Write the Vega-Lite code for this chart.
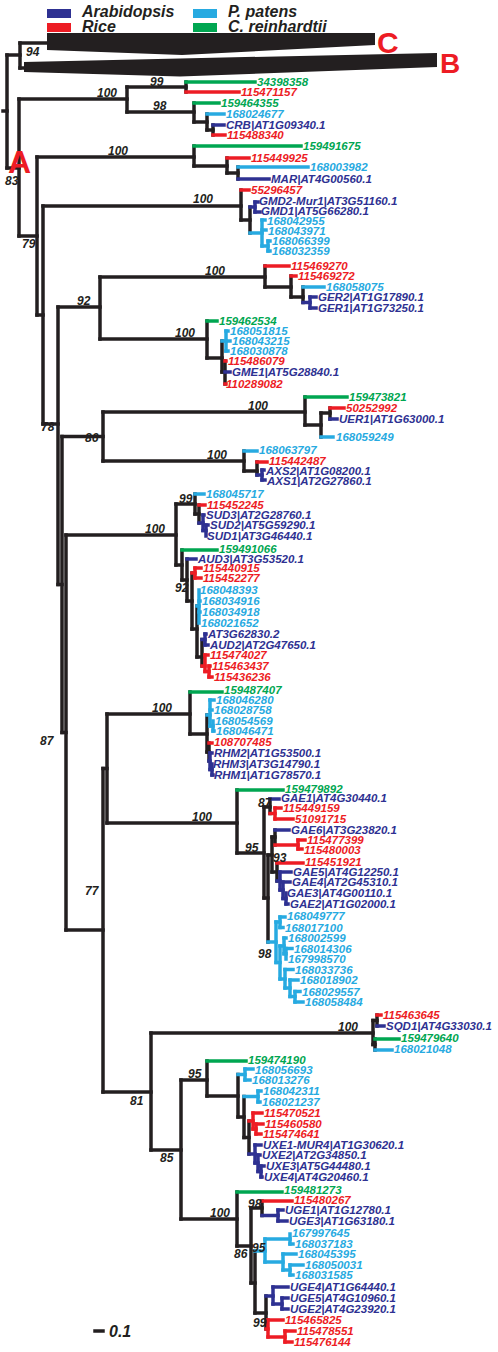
{
"$schema":"https://vega.github.io/schema/vega-lite/v6.json",
"width":498,"height":1352,"padding":0,"autosize":{"type":"none"},
"config":{"view":{"stroke":null}},
"datasets":{
"seg":[
{"x":3,"y":111,"x2":7,"y2":111,"c":"k"},{"x":7,"y":55,"x2":7,"y2":168,"c":"k"},{"x":7,"y":55,"x2":20,"y2":55,"c":"k"},{"x":20,"y":43,"x2":20,"y2":68,"c":"k"},{"x":20,"y":43,"x2":47,"y2":43,"c":"k"},{"x":20,"y":68,"x2":25,"y2":68,"c":"k"},
{"x":7,"y":168,"x2":19,"y2":168,"c":"k"},{"x":19,"y":99,"x2":19,"y2":236,"c":"k"},{"x":19,"y":99,"x2":127,"y2":99,"c":"k"},{"x":127,"y":87,"x2":127,"y2":112,"c":"k"},{"x":127,"y":87,"x2":186,"y2":87,"c":"k"},{"x":186,"y":82,"x2":186,"y2":92,"c":"k"},{"x":186,"y":82,"x2":255,"y2":82,"c":"g"},{"x":186,"y":92,"x2":239,"y2":92,"c":"r"},{"x":127,"y":112,"x2":194,"y2":112,"c":"k"},{"x":194,"y":103,"x2":194,"y2":122,"c":"k"},{"x":194,"y":103,"x2":219,"y2":103,"c":"g"},{"x":194,"y":122,"x2":207,"y2":122,"c":"k"},{"x":207,"y":114,"x2":207,"y2":130,"c":"k"},{"x":207,"y":114,"x2":224,"y2":114,"c":"l"},{"x":207,"y":130,"x2":213,"y2":130,"c":"k"},{"x":213,"y":125,"x2":213,"y2":135,"c":"k"},{"x":213,"y":125,"x2":224,"y2":125,"c":"b"},{"x":213,"y":135,"x2":225,"y2":135,"c":"r"},
{"x":19,"y":236,"x2":37,"y2":236,"c":"k"},{"x":37,"y":157,"x2":37,"y2":315,"c":"k"},{"x":37,"y":157,"x2":194,"y2":157,"c":"k"},{"x":194,"y":146,"x2":194,"y2":166,"c":"k"},{"x":194,"y":146,"x2":301,"y2":146,"c":"g"},{"x":194,"y":166,"x2":227,"y2":166,"c":"k"},{"x":227,"y":158,"x2":227,"y2":173,"c":"k"},{"x":227,"y":158,"x2":249,"y2":158,"c":"r"},{"x":227,"y":173,"x2":238,"y2":173,"c":"k"},{"x":238,"y":167,"x2":238,"y2":179,"c":"k"},{"x":238,"y":167,"x2":308,"y2":167,"c":"l"},{"x":238,"y":179,"x2":269,"y2":179,"c":"b"},
{"x":37,"y":315,"x2":43,"y2":315,"c":"k"},{"x":43,"y":206,"x2":43,"y2":424,"c":"k"},{"x":43,"y":206,"x2":241,"y2":206,"c":"k"},{"x":241,"y":190,"x2":241,"y2":220,"c":"k"},{"x":241,"y":190,"x2":249,"y2":190,"c":"r"},{"x":241,"y":220,"x2":250,"y2":220,"c":"k"},{"x":250,"y":207,"x2":250,"y2":233,"c":"k"},{"x":250,"y":207,"x2":255,"y2":207,"c":"b"},{"x":255,"y":202,"x2":255,"y2":212,"c":"b"},{"x":255,"y":202,"x2":258,"y2":202,"c":"b"},{"x":255,"y":212,"x2":260,"y2":212,"c":"b"},{"x":250,"y":233,"x2":262,"y2":233,"c":"l"},{"x":262,"y":220,"x2":262,"y2":246,"c":"l"},{"x":262,"y":220,"x2":265,"y2":220,"c":"l"},{"x":262,"y":230,"x2":266,"y2":230,"c":"l"},{"x":262,"y":246,"x2":268,"y2":246,"c":"l"},{"x":268,"y":241,"x2":268,"y2":251,"c":"l"},{"x":268,"y":241,"x2":270,"y2":241,"c":"l"},{"x":268,"y":251,"x2":270,"y2":251,"c":"l"},
{"x":43,"y":424,"x2":58,"y2":424,"c":"k"},{"x":58,"y":307,"x2":58,"y2":584.5,"c":"k"},{"x":58,"y":307,"x2":100,"y2":307,"c":"k"},{"x":100,"y":277,"x2":100,"y2":339,"c":"k"},
{"x":100,"y":277,"x2":265,"y2":277,"c":"k"},{"x":265,"y":266,"x2":265,"y2":287,"c":"k"},{"x":265,"y":266,"x2":289,"y2":266,"c":"r"},{"x":265,"y":287,"x2":291,"y2":287,"c":"k"},{"x":291,"y":276,"x2":291,"y2":297,"c":"k"},{"x":291,"y":276,"x2":296,"y2":276,"c":"r"},{"x":291,"y":297,"x2":303,"y2":297,"c":"k"},{"x":303,"y":287,"x2":303,"y2":302.5,"c":"k"},{"x":303,"y":287,"x2":324,"y2":287,"c":"l"},{"x":303,"y":302.5,"x2":310,"y2":302.5,"c":"b"},{"x":310,"y":297,"x2":310,"y2":308,"c":"b"},{"x":310,"y":297,"x2":316,"y2":297,"c":"b"},{"x":310,"y":308,"x2":316,"y2":308,"c":"b"},
{"x":100,"y":339,"x2":207,"y2":339,"c":"k"},{"x":207,"y":321,"x2":207,"y2":358,"c":"k"},{"x":207,"y":321,"x2":217,"y2":321,"c":"g"},{"x":207,"y":358,"x2":222,"y2":358,"c":"k"},{"x":222,"y":341,"x2":222,"y2":372,"c":"k"},{"x":222,"y":341,"x2":226,"y2":341,"c":"l"},{"x":226,"y":331,"x2":226,"y2":351,"c":"l"},{"x":226,"y":331,"x2":228,"y2":331,"c":"l"},{"x":226,"y":341,"x2":230,"y2":341,"c":"l"},{"x":226,"y":351,"x2":228,"y2":351,"c":"l"},{"x":222,"y":372,"x2":225,"y2":372,"c":"k"},{"x":225,"y":361,"x2":225,"y2":384,"c":"k"},{"x":225,"y":361,"x2":226,"y2":361,"c":"r"},{"x":225,"y":372,"x2":230,"y2":372,"c":"b"},{"x":225,"y":384,"x2":226,"y2":384,"c":"r"},
{"x":58,"y":584.5,"x2":62,"y2":584.5,"c":"k"},{"x":62,"y":436.5,"x2":62,"y2":732.5,"c":"k"},{"x":62,"y":436.5,"x2":103,"y2":436.5,"c":"k"},{"x":103,"y":412,"x2":103,"y2":461,"c":"k"},{"x":62,"y":732.5,"x2":66,"y2":732.5,"c":"k"},{"x":66,"y":535,"x2":66,"y2":930,"c":"k"},{"x":66,"y":930,"x2":103,"y2":930,"c":"k"},{"x":103,"y":768.5,"x2":103,"y2":1092,"c":"k"},{"x":103,"y":768.5,"x2":107,"y2":768.5,"c":"k"},{"x":107,"y":714,"x2":107,"y2":823,"c":"k"},
{"x":103,"y":412,"x2":305,"y2":412,"c":"k"},{"x":305,"y":397,"x2":305,"y2":425,"c":"k"},{"x":305,"y":397,"x2":347,"y2":397,"c":"g"},{"x":305,"y":425,"x2":321,"y2":425,"c":"k"},{"x":321,"y":413,"x2":321,"y2":437,"c":"k"},{"x":321,"y":413,"x2":330,"y2":413,"c":"k"},{"x":330,"y":408,"x2":330,"y2":419,"c":"k"},{"x":330,"y":408,"x2":344,"y2":408,"c":"r"},{"x":330,"y":419,"x2":337,"y2":419,"c":"b"},{"x":321,"y":437,"x2":333,"y2":437,"c":"l"},
{"x":103,"y":461,"x2":244,"y2":461,"c":"k"},{"x":244,"y":451,"x2":244,"y2":471,"c":"k"},{"x":244,"y":451,"x2":257,"y2":451,"c":"l"},{"x":244,"y":471,"x2":257,"y2":471,"c":"k"},{"x":257,"y":462,"x2":257,"y2":475,"c":"k"},{"x":257,"y":462,"x2":267,"y2":462,"c":"r"},{"x":257,"y":475,"x2":262,"y2":475,"c":"b"},{"x":262,"y":470,"x2":262,"y2":480,"c":"b"},{"x":262,"y":470,"x2":264,"y2":470,"c":"b"},{"x":262,"y":480,"x2":265,"y2":480,"c":"b"},
{"x":66,"y":535,"x2":176,"y2":535,"c":"k"},{"x":176,"y":504,"x2":176,"y2":565,"c":"k"},{"x":176,"y":504,"x2":195,"y2":504,"c":"k"},{"x":195,"y":494,"x2":195,"y2":514,"c":"k"},{"x":195,"y":494,"x2":204,"y2":494,"c":"l"},{"x":195,"y":514,"x2":199,"y2":514,"c":"k"},{"x":199,"y":505,"x2":199,"y2":523,"c":"k"},{"x":199,"y":505,"x2":205,"y2":505,"c":"r"},{"x":199,"y":523,"x2":203,"y2":523,"c":"b"},{"x":203,"y":515,"x2":203,"y2":530.5,"c":"b"},{"x":203,"y":515,"x2":204,"y2":515,"c":"b"},{"x":203,"y":530.5,"x2":206,"y2":530.5,"c":"b"},{"x":206,"y":525,"x2":206,"y2":536,"c":"b"},{"x":206,"y":525,"x2":208,"y2":525,"c":"b"},
{"x":176,"y":565,"x2":182,"y2":565,"c":"k"},{"x":182,"y":550,"x2":182,"y2":580,"c":"k"},{"x":182,"y":550,"x2":217,"y2":550,"c":"g"},{"x":182,"y":580,"x2":187,"y2":580,"c":"k"},{"x":187,"y":559,"x2":187,"y2":601,"c":"k"},{"x":187,"y":559,"x2":196,"y2":559,"c":"b"},{"x":187,"y":601,"x2":192,"y2":601,"c":"k"},{"x":192,"y":573,"x2":192,"y2":629,"c":"k"},{"x":192,"y":573,"x2":195,"y2":573,"c":"r"},{"x":195,"y":568,"x2":195,"y2":578,"c":"r"},{"x":195,"y":568,"x2":201,"y2":568,"c":"r"},{"x":195,"y":578,"x2":201,"y2":578,"c":"r"},{"x":192,"y":629,"x2":197,"y2":629,"c":"k"},{"x":197,"y":606,"x2":197,"y2":657,"c":"k"},{"x":197,"y":606,"x2":199,"y2":606,"c":"l"},{"x":199,"y":590,"x2":199,"y2":623,"c":"l"},{"x":199,"y":601,"x2":200,"y2":601,"c":"l"},{"x":199,"y":612,"x2":200,"y2":612,"c":"l"},{"x":197,"y":657,"x2":202,"y2":657,"c":"k"},{"x":202,"y":639.5,"x2":202,"y2":666,"c":"k"},{"x":202,"y":639.5,"x2":205,"y2":639.5,"c":"b"},{"x":205,"y":634,"x2":205,"y2":645,"c":"b"},{"x":205,"y":634,"x2":206,"y2":634,"c":"b"},{"x":205,"y":645,"x2":208,"y2":645,"c":"b"},{"x":202,"y":666,"x2":205,"y2":666,"c":"r"},{"x":205,"y":655,"x2":205,"y2":671.5,"c":"r"},{"x":205,"y":655,"x2":208,"y2":655,"c":"r"},{"x":205,"y":671.5,"x2":209,"y2":671.5,"c":"r"},{"x":209,"y":666,"x2":209,"y2":677,"c":"r"},{"x":209,"y":666,"x2":210,"y2":666,"c":"r"},{"x":209,"y":677,"x2":212,"y2":677,"c":"r"},
{"x":107,"y":714,"x2":190,"y2":714,"c":"k"},{"x":190,"y":692,"x2":190,"y2":734,"c":"k"},{"x":190,"y":692,"x2":222,"y2":692,"c":"g"},{"x":190,"y":734,"x2":207,"y2":734,"c":"k"},{"x":207,"y":715,"x2":207,"y2":752,"c":"k"},{"x":207,"y":715,"x2":210,"y2":715,"c":"l"},{"x":210,"y":700,"x2":210,"y2":726,"c":"l"},{"x":210,"y":700,"x2":214,"y2":700,"c":"l"},{"x":210,"y":710,"x2":212,"y2":710,"c":"l"},{"x":210,"y":726,"x2":213,"y2":726,"c":"l"},{"x":213,"y":721,"x2":213,"y2":731,"c":"l"},{"x":213,"y":731,"x2":214,"y2":731,"c":"l"},{"x":207,"y":752,"x2":209,"y2":752,"c":"k"},{"x":209,"y":743,"x2":209,"y2":761,"c":"k"},{"x":209,"y":743,"x2":212,"y2":743,"c":"r"},{"x":209,"y":761,"x2":210,"y2":761,"c":"b"},{"x":210,"y":753,"x2":210,"y2":769.5,"c":"b"},{"x":210,"y":753,"x2":212,"y2":753,"c":"b"},{"x":210,"y":769.5,"x2":212,"y2":769.5,"c":"b"},{"x":212,"y":764,"x2":212,"y2":775,"c":"b"},{"x":212,"y":775,"x2":213,"y2":775,"c":"b"},
{"x":107,"y":823,"x2":237,"y2":823,"c":"k"},{"x":237,"y":790,"x2":237,"y2":853,"c":"k"},{"x":237,"y":790,"x2":283,"y2":790,"c":"g"},{"x":237,"y":853,"x2":264,"y2":853,"c":"k"},{"x":264,"y":807,"x2":264,"y2":898,"c":"k"},{"x":264,"y":807,"x2":270,"y2":807,"c":"k"},{"x":270,"y":799,"x2":270,"y2":813.5,"c":"k"},{"x":270,"y":799,"x2":279,"y2":799,"c":"b"},{"x":270,"y":813.5,"x2":275,"y2":813.5,"c":"r"},{"x":275,"y":808,"x2":275,"y2":819,"c":"r"},{"x":275,"y":808,"x2":281,"y2":808,"c":"r"},{"x":275,"y":819,"x2":293,"y2":819,"c":"r"},{"x":264,"y":898,"x2":268,"y2":898,"c":"k"},{"x":268,"y":855,"x2":268,"y2":942,"c":"k"},{"x":268,"y":855,"x2":272,"y2":855,"c":"k"},{"x":272,"y":837,"x2":272,"y2":872,"c":"k"},{"x":272,"y":837,"x2":275,"y2":837,"c":"k"},{"x":275,"y":830,"x2":275,"y2":845,"c":"k"},{"x":275,"y":830,"x2":289,"y2":830,"c":"b"},{"x":275,"y":845,"x2":298,"y2":845,"c":"r"},{"x":298,"y":840,"x2":298,"y2":849,"c":"r"},{"x":298,"y":840,"x2":305,"y2":840,"c":"r"},{"x":298,"y":849,"x2":302,"y2":849,"c":"r"},{"x":272,"y":872,"x2":277,"y2":872,"c":"k"},{"x":277,"y":863,"x2":277,"y2":881,"c":"k"},{"x":277,"y":863,"x2":303,"y2":863,"c":"r"},{"x":277,"y":881,"x2":280,"y2":881,"c":"b"},{"x":280,"y":872,"x2":280,"y2":890,"c":"b"},{"x":280,"y":872,"x2":291,"y2":872,"c":"b"},{"x":280,"y":890,"x2":283,"y2":890,"c":"b"},{"x":283,"y":882,"x2":283,"y2":898.5,"c":"b"},{"x":283,"y":882,"x2":290,"y2":882,"c":"b"},{"x":283,"y":898.5,"x2":286,"y2":898.5,"c":"b"},{"x":286,"y":893,"x2":286,"y2":904,"c":"b"},{"x":286,"y":904,"x2":288,"y2":904,"c":"b"},
{"x":268,"y":942,"x2":276,"y2":942,"c":"l"},{"x":276,"y":922,"x2":276,"y2":962.5,"c":"l"},{"x":276,"y":922,"x2":280,"y2":922,"c":"l"},{"x":280,"y":917,"x2":280,"y2":927.5,"c":"l"},{"x":280,"y":917,"x2":285,"y2":917,"c":"l"},{"x":280,"y":927.5,"x2":283,"y2":927.5,"c":"l"},{"x":276,"y":962.5,"x2":280,"y2":962.5,"c":"l"},{"x":280,"y":946,"x2":280,"y2":979,"c":"l"},{"x":280,"y":946,"x2":284,"y2":946,"c":"l"},{"x":284,"y":938,"x2":284,"y2":953.75,"c":"l"},{"x":284,"y":938,"x2":286,"y2":938,"c":"l"},{"x":284,"y":953.75,"x2":286,"y2":953.75,"c":"l"},{"x":286,"y":948.5,"x2":286,"y2":959,"c":"l"},{"x":286,"y":948.5,"x2":292,"y2":948.5,"c":"l"},{"x":280,"y":979,"x2":285,"y2":979,"c":"l"},{"x":285,"y":969.5,"x2":285,"y2":988,"c":"l"},{"x":285,"y":969.5,"x2":293,"y2":969.5,"c":"l"},{"x":285,"y":988,"x2":290,"y2":988,"c":"l"},{"x":290,"y":980,"x2":290,"y2":996.5,"c":"l"},{"x":290,"y":980,"x2":298,"y2":980,"c":"l"},{"x":290,"y":996.5,"x2":295,"y2":996.5,"c":"l"},{"x":295,"y":991.5,"x2":295,"y2":1002,"c":"l"},{"x":295,"y":991.5,"x2":300,"y2":991.5,"c":"l"},{"x":295,"y":1002,"x2":303,"y2":1002,"c":"l"},
{"x":103,"y":1092,"x2":151,"y2":1092,"c":"k"},{"x":151,"y":1033,"x2":151,"y2":1150,"c":"k"},{"x":151,"y":1033,"x2":373,"y2":1033,"c":"k"},{"x":373,"y":1020.5,"x2":373,"y2":1044.5,"c":"k"},{"x":373,"y":1020.5,"x2":377,"y2":1020.5,"c":"k"},{"x":377,"y":1015,"x2":377,"y2":1026,"c":"k"},{"x":377,"y":1015,"x2":381,"y2":1015,"c":"r"},{"x":377,"y":1026,"x2":384,"y2":1026,"c":"b"},{"x":373,"y":1044.5,"x2":375,"y2":1044.5,"c":"k"},{"x":375,"y":1039,"x2":375,"y2":1050,"c":"k"},{"x":375,"y":1039,"x2":399,"y2":1039,"c":"g"},{"x":375,"y":1050,"x2":392,"y2":1050,"c":"l"},
{"x":151,"y":1150,"x2":181,"y2":1150,"c":"k"},{"x":181,"y":1080,"x2":181,"y2":1219,"c":"k"},{"x":181,"y":1080,"x2":207,"y2":1080,"c":"k"},{"x":207,"y":1061,"x2":207,"y2":1096,"c":"k"},{"x":207,"y":1061,"x2":246,"y2":1061,"c":"g"},{"x":207,"y":1096,"x2":238,"y2":1096,"c":"k"},{"x":238,"y":1074.5,"x2":238,"y2":1117,"c":"k"},{"x":238,"y":1074.5,"x2":245,"y2":1074.5,"c":"l"},{"x":245,"y":1069,"x2":245,"y2":1080,"c":"l"},{"x":245,"y":1069,"x2":253,"y2":1069,"c":"l"},{"x":245,"y":1080,"x2":250,"y2":1080,"c":"l"},{"x":238,"y":1117,"x2":244,"y2":1117,"c":"k"},{"x":244,"y":1096.5,"x2":244,"y2":1137.5,"c":"k"},{"x":244,"y":1096.5,"x2":258,"y2":1096.5,"c":"l"},{"x":258,"y":1091,"x2":258,"y2":1102,"c":"l"},{"x":258,"y":1091,"x2":261,"y2":1091,"c":"l"},{"x":258,"y":1102,"x2":260,"y2":1102,"c":"l"},{"x":244,"y":1137.5,"x2":249,"y2":1137.5,"c":"k"},{"x":249,"y":1121,"x2":249,"y2":1154,"c":"k"},{"x":249,"y":1121,"x2":253,"y2":1121,"c":"r"},{"x":253,"y":1113,"x2":253,"y2":1129,"c":"r"},{"x":253,"y":1113,"x2":262,"y2":1113,"c":"r"},{"x":253,"y":1129,"x2":256,"y2":1129,"c":"r"},{"x":256,"y":1124,"x2":256,"y2":1134,"c":"r"},{"x":256,"y":1124,"x2":263,"y2":1124,"c":"r"},{"x":256,"y":1134,"x2":261,"y2":1134,"c":"r"},{"x":249,"y":1154,"x2":255,"y2":1154,"c":"b"},{"x":255,"y":1145,"x2":255,"y2":1163,"c":"b"},{"x":255,"y":1145,"x2":261,"y2":1145,"c":"b"},{"x":255,"y":1163,"x2":258,"y2":1163,"c":"b"},{"x":258,"y":1155,"x2":258,"y2":1171.5,"c":"b"},{"x":258,"y":1155,"x2":260,"y2":1155,"c":"b"},{"x":258,"y":1171.5,"x2":261,"y2":1171.5,"c":"b"},{"x":261,"y":1166,"x2":261,"y2":1177,"c":"b"},{"x":261,"y":1166,"x2":264,"y2":1166,"c":"b"},{"x":261,"y":1177,"x2":262,"y2":1177,"c":"b"},
{"x":181,"y":1219,"x2":237,"y2":1219,"c":"k"},{"x":237,"y":1192,"x2":237,"y2":1246,"c":"k"},{"x":237,"y":1192,"x2":282,"y2":1192,"c":"g"},{"x":237,"y":1246,"x2":251,"y2":1246,"c":"k"},{"x":251,"y":1208,"x2":251,"y2":1283,"c":"k"},{"x":251,"y":1208,"x2":262,"y2":1208,"c":"k"},{"x":262,"y":1201,"x2":262,"y2":1215.5,"c":"k"},{"x":262,"y":1201,"x2":292,"y2":1201,"c":"r"},{"x":262,"y":1215.5,"x2":278,"y2":1215.5,"c":"b"},{"x":278,"y":1210,"x2":278,"y2":1221,"c":"b"},{"x":278,"y":1210,"x2":283,"y2":1210,"c":"b"},{"x":278,"y":1221,"x2":287,"y2":1221,"c":"b"},{"x":251,"y":1283,"x2":255,"y2":1283,"c":"k"},{"x":255,"y":1251,"x2":255,"y2":1313,"c":"k"},{"x":255,"y":1251,"x2":265,"y2":1251,"c":"l"},{"x":265,"y":1239,"x2":265,"y2":1262,"c":"l"},{"x":265,"y":1239,"x2":290,"y2":1239,"c":"l"},{"x":290,"y":1234,"x2":290,"y2":1244,"c":"l"},{"x":290,"y":1244,"x2":293,"y2":1244,"c":"l"},{"x":265,"y":1262,"x2":283,"y2":1262,"c":"l"},{"x":283,"y":1254,"x2":283,"y2":1270,"c":"l"},{"x":283,"y":1254,"x2":296,"y2":1254,"c":"l"},{"x":283,"y":1270,"x2":290,"y2":1270,"c":"l"},{"x":290,"y":1265,"x2":290,"y2":1275,"c":"l"},{"x":290,"y":1265,"x2":303,"y2":1265,"c":"l"},{"x":290,"y":1275,"x2":293,"y2":1275,"c":"l"},{"x":255,"y":1313,"x2":266,"y2":1313,"c":"k"},{"x":266,"y":1296,"x2":266,"y2":1329,"c":"k"},{"x":266,"y":1296,"x2":273,"y2":1296,"c":"b"},{"x":273,"y":1287,"x2":273,"y2":1304,"c":"b"},{"x":273,"y":1287,"x2":288,"y2":1287,"c":"b"},{"x":273,"y":1304,"x2":282,"y2":1304,"c":"b"},{"x":282,"y":1298,"x2":282,"y2":1309,"c":"b"},{"x":282,"y":1298,"x2":288,"y2":1298,"c":"b"},{"x":282,"y":1309,"x2":288,"y2":1309,"c":"b"},{"x":266,"y":1329,"x2":268,"y2":1329,"c":"r"},{"x":268,"y":1320,"x2":268,"y2":1337,"c":"r"},{"x":268,"y":1320,"x2":283,"y2":1320,"c":"r"},{"x":268,"y":1337,"x2":285,"y2":1337,"c":"r"},{"x":285,"y":1331,"x2":285,"y2":1342,"c":"r"},{"x":285,"y":1331,"x2":295,"y2":1331,"c":"r"},{"x":285,"y":1342,"x2":292,"y2":1342,"c":"r"},
{"x":95,"y":1331,"x2":103,"y2":1331,"c":"k"}
],
"tri":[
{"id":"C","x":47,"y":33,"y2":50},{"id":"C","x":182,"y":33,"y2":55},{"id":"C","x":375,"y":33,"y2":45},
{"id":"B","x":24,"y":62,"y2":72},{"id":"B","x":180,"y":58.5,"y2":76.5},{"id":"B","x":437,"y":53,"y2":67}
],
"leaf":[
{"x":257,"y":82,"t":"34398358","c":"g"},{"x":241,"y":92,"t":"115471157","c":"r"},{"x":221,"y":103,"t":"159464355","c":"g"},{"x":226,"y":114,"t":"168024677","c":"l"},{"x":226,"y":125,"t":"CRB|AT1G09340.1","c":"b"},{"x":227,"y":135,"t":"115488340","c":"r"},
{"x":303,"y":146,"t":"159491675","c":"g"},{"x":251,"y":158,"t":"115449925","c":"r"},{"x":310,"y":167,"t":"168003982","c":"l"},{"x":271,"y":179,"t":"MAR|AT4G00560.1","c":"b"},
{"x":251,"y":190,"t":"55296457","c":"r"},{"x":259,"y":201,"t":"GMD2-Mur1|AT3G51160.1","c":"b"},{"x":261,"y":211,"t":"GMD1|AT5G66280.1","c":"b"},{"x":267,"y":221,"t":"168042955","c":"l"},{"x":268,"y":231,"t":"168043971","c":"l"},{"x":272,"y":241,"t":"168066399","c":"l"},{"x":272,"y":251,"t":"168032359","c":"l"},
{"x":291,"y":266,"t":"115469270","c":"r"},{"x":298,"y":276,"t":"115469272","c":"r"},{"x":326,"y":287,"t":"168058075","c":"l"},{"x":318,"y":297,"t":"GER2|AT1G17890.1","c":"b"},{"x":318,"y":308,"t":"GER1|AT1G73250.1","c":"b"},
{"x":219,"y":321,"t":"159462534","c":"g"},{"x":230,"y":331,"t":"168051815","c":"l"},{"x":232,"y":341,"t":"168043215","c":"l"},{"x":230,"y":351,"t":"168030878","c":"l"},{"x":228,"y":361,"t":"115486079","c":"r"},{"x":232,"y":372,"t":"GME1|AT5G28840.1","c":"b"},{"x":226,"y":384,"t":"110289082","c":"r"},
{"x":349,"y":397,"t":"159473821","c":"g"},{"x":346,"y":408,"t":"50252992","c":"r"},{"x":339,"y":419,"t":"UER1|AT1G63000.1","c":"b"},{"x":336,"y":437,"t":"168059249","c":"l"},
{"x":259,"y":450,"t":"168063797","c":"l"},{"x":269,"y":460.5,"t":"115442487","c":"r"},{"x":266,"y":471,"t":"AXS2|AT1G08200.1","c":"b"},{"x":267,"y":481,"t":"AXS1|AT2G27860.1","c":"b"},
{"x":206,"y":494,"t":"168045717","c":"l"},{"x":207,"y":505,"t":"115452245","c":"r"},{"x":206,"y":515,"t":"SUD3|AT2G28760.1","c":"b"},{"x":210,"y":525,"t":"SUD2|AT5G59290.1","c":"b"},{"x":207,"y":536,"t":"SUD1|AT3G46440.1","c":"b"},
{"x":219,"y":549,"t":"159491066","c":"g"},{"x":198,"y":559,"t":"AUD3|AT3G53520.1","c":"b"},{"x":203,"y":568,"t":"115440915","c":"r"},{"x":203,"y":578,"t":"115452277","c":"r"},{"x":200,"y":590,"t":"168048393","c":"l"},{"x":202,"y":601,"t":"168034916","c":"l"},{"x":202,"y":612,"t":"168034918","c":"l"},{"x":201,"y":623,"t":"168021652","c":"l"},{"x":208,"y":634,"t":"AT3G62830.2","c":"b"},{"x":210,"y":645,"t":"AUD2|AT2G47650.1","c":"b"},{"x":210,"y":655,"t":"115474027","c":"r"},{"x":212,"y":666,"t":"115463437","c":"r"},{"x":214,"y":677,"t":"115436236","c":"r"},
{"x":224,"y":690,"t":"159487407","c":"g"},{"x":216,"y":700,"t":"168046280","c":"l"},{"x":214,"y":710,"t":"168028758","c":"l"},{"x":215,"y":721,"t":"168054569","c":"l"},{"x":216,"y":731,"t":"168046471","c":"l"},{"x":214,"y":742,"t":"108707485","c":"r"},{"x":214,"y":753,"t":"RHM2|AT1G53500.1","c":"b"},{"x":213,"y":764,"t":"RHM3|AT3G14790.1","c":"b"},{"x":214,"y":775,"t":"RHM1|AT1G78570.1","c":"b"},
{"x":285,"y":789,"t":"159479892","c":"g"},{"x":281,"y":798,"t":"GAE1|AT4G30440.1","c":"b"},{"x":283,"y":808,"t":"115449159","c":"r"},{"x":295,"y":819,"t":"51091715","c":"r"},{"x":291,"y":830,"t":"GAE6|AT3G23820.1","c":"b"},{"x":307,"y":840,"t":"115477399","c":"r"},{"x":304,"y":850,"t":"115480003","c":"r"},{"x":305,"y":862,"t":"115451921","c":"r"},{"x":293,"y":872,"t":"GAE5|AT4G12250.1","c":"b"},{"x":292,"y":882,"t":"GAE4|AT2G45310.1","c":"b"},{"x":287,"y":893,"t":"GAE3|AT4G00110.1","c":"b"},{"x":290,"y":904,"t":"GAE2|AT1G02000.1","c":"b"},
{"x":287,"y":916,"t":"168049777","c":"l"},{"x":285,"y":927.5,"t":"168017100","c":"l"},{"x":288,"y":938,"t":"168002599","c":"l"},{"x":294,"y":948.5,"t":"168014306","c":"l"},{"x":288,"y":959,"t":"167998570","c":"l"},{"x":295,"y":969.5,"t":"168033736","c":"l"},{"x":300,"y":980,"t":"168018902","c":"l"},{"x":302,"y":991.5,"t":"168029557","c":"l"},{"x":305,"y":1002,"t":"168058484","c":"l"},
{"x":383,"y":1015,"t":"115463645","c":"r"},{"x":386,"y":1026,"t":"SQD1|AT4G33030.1","c":"b"},{"x":401,"y":1038,"t":"159479640","c":"g"},{"x":394,"y":1049,"t":"168021048","c":"l"},
{"x":248,"y":1060,"t":"159474190","c":"g"},{"x":255,"y":1070,"t":"168056693","c":"l"},{"x":252,"y":1080,"t":"168013276","c":"l"},{"x":263,"y":1091,"t":"168042311","c":"l"},{"x":262,"y":1102,"t":"168021237","c":"l"},{"x":264,"y":1113,"t":"115470521","c":"r"},{"x":265,"y":1124,"t":"115460580","c":"r"},{"x":263,"y":1134,"t":"115474641","c":"r"},{"x":263,"y":1145,"t":"UXE1-MUR4|AT1G30620.1","c":"b"},{"x":262,"y":1155,"t":"UXE2|AT2G34850.1","c":"b"},{"x":266,"y":1166,"t":"UXE3|AT5G44480.1","c":"b"},{"x":264,"y":1177,"t":"UXE4|AT4G20460.1","c":"b"},
{"x":284,"y":1190,"t":"159481273","c":"g"},{"x":294,"y":1200,"t":"115480267","c":"r"},{"x":285,"y":1210,"t":"UGE1|AT1G12780.1","c":"b"},{"x":289,"y":1221,"t":"UGE3|AT1G63180.1","c":"b"},{"x":292,"y":1233,"t":"167997645","c":"l"},{"x":295,"y":1244,"t":"168037183","c":"l"},{"x":298,"y":1254,"t":"168045395","c":"l"},{"x":305,"y":1265,"t":"168050031","c":"l"},{"x":295,"y":1275,"t":"168031585","c":"l"},{"x":290,"y":1287,"t":"UGE4|AT1G64440.1","c":"b"},{"x":290,"y":1298,"t":"UGE5|AT4G10960.1","c":"b"},{"x":290,"y":1309,"t":"UGE2|AT4G23920.1","c":"b"},{"x":285,"y":1320,"t":"115465825","c":"r"},{"x":297,"y":1331,"t":"115478551","c":"r"},{"x":294,"y":1342,"t":"115476144","c":"r"}
],
"boot":[
{"x":26,"y":56,"t":"94"},{"x":5,"y":185,"t":"83"},{"x":22,"y":248,"t":"79"},{"x":97,"y":97,"t":"100"},{"x":150,"y":85.5,"t":"99"},{"x":153,"y":110,"t":"98"},{"x":108,"y":155,"t":"100"},{"x":193,"y":203,"t":"100"},{"x":77,"y":305,"t":"92"},{"x":205,"y":275,"t":"100"},{"x":175,"y":337,"t":"100"},{"x":41,"y":431,"t":"78"},{"x":85,"y":442,"t":"86"},{"x":248,"y":410,"t":"100"},{"x":207,"y":459,"t":"100"},{"x":179,"y":503,"t":"99"},{"x":145,"y":533,"t":"100"},{"x":175,"y":592,"t":"92"},{"x":152,"y":712,"t":"100"},{"x":40,"y":745,"t":"87"},{"x":192,"y":821,"t":"100"},{"x":258,"y":807,"t":"87"},{"x":245,"y":852,"t":"95"},{"x":273,"y":862,"t":"93"},{"x":85,"y":895,"t":"77"},{"x":258,"y":958,"t":"98"},{"x":338,"y":1031,"t":"100"},{"x":188,"y":1078,"t":"95"},{"x":130,"y":1105,"t":"81"},{"x":160,"y":1162,"t":"85"},{"x":248,"y":1208,"t":"98"},{"x":210,"y":1217,"t":"100"},{"x":234,"y":1258,"t":"86"},{"x":252,"y":1252,"t":"95"},{"x":253,"y":1327,"t":"99"}
],
"big":[
{"x":8,"y":173,"t":"A","s":32},{"x":440,"y":73,"t":"B","s":28},{"x":377,"y":53,"t":"C","s":30}
],
"leg":[
{"x":47,"x2":71,"y":9,"y2":18,"c":"b"},{"x":47,"x2":71,"y":23,"y2":32,"c":"r"},{"x":193,"x2":217,"y":9,"y2":18,"c":"l"},{"x":193,"x2":217,"y":23,"y2":32,"c":"g"}
],
"legtxt":[
{"x":82,"y":16.5,"t":"Arabidopsis"},{"x":82,"y":31.5,"t":"Rice"},{"x":228,"y":16.5,"t":"P. patens"},{"x":228,"y":31.5,"t":"C. reinhardtii"},{"x":109,"y":1337,"t":"0.1"}
]
},
"layer":[
{"data":{"name":"tri"},"mark":{"type":"area","color":"#231f20","interpolate":"linear"},
 "encoding":{"x":{"field":"x","type":"quantitative","scale":{"domain":[0,498],"nice":false,"zero":false},"axis":null},
 "y":{"field":"y","type":"quantitative","scale":{"domain":[0,1352],"nice":false,"zero":false,"reverse":true},"axis":null},
 "y2":{"field":"y2"},"detail":{"field":"id"}}},
{"data":{"name":"seg"},"mark":{"type":"rule","strokeWidth":3.5,"strokeCap":"square"},
 "encoding":{"x":{"field":"x","type":"quantitative","axis":null},"y":{"field":"y","type":"quantitative","axis":null},
 "x2":{"field":"x2"},"y2":{"field":"y2"},
 "color":{"field":"c","type":"nominal","scale":{"domain":["k","b","r","l","g"],"range":["#231f20","#2e3192","#ed1c24","#27aae1","#00a651"]},"legend":null}}},
{"data":{"name":"leg"},"mark":{"type":"rect"},
 "encoding":{"x":{"field":"x","type":"quantitative"},"x2":{"field":"x2"},"y":{"field":"y","type":"quantitative"},"y2":{"field":"y2"},
 "color":{"field":"c","type":"nominal","legend":null}}},
{"data":{"name":"leaf"},"mark":{"type":"text","align":"left","baseline":"alphabetic","dy":4,"font":"Liberation Sans","fontSize":11.5,"fontWeight":"bold","fontStyle":"italic"},
 "encoding":{"x":{"field":"x","type":"quantitative"},"y":{"field":"y","type":"quantitative"},"text":{"field":"t"},
 "color":{"field":"c","type":"nominal","legend":null}}},
{"data":{"name":"boot"},"mark":{"type":"text","align":"left","baseline":"alphabetic","font":"Liberation Sans","fontSize":12,"fontWeight":"bold","fontStyle":"italic","color":"#231f20"},
 "encoding":{"x":{"field":"x","type":"quantitative"},"y":{"field":"y","type":"quantitative"},"text":{"field":"t"}}},
{"data":{"name":"legtxt"},"mark":{"type":"text","align":"left","baseline":"alphabetic","font":"Liberation Sans","fontSize":16,"fontWeight":"bold","fontStyle":"italic","color":"#231f20"},
 "encoding":{"x":{"field":"x","type":"quantitative"},"y":{"field":"y","type":"quantitative"},"text":{"field":"t"}}},
{"data":{"name":"big"},"mark":{"type":"text","align":"left","baseline":"alphabetic","font":"Liberation Sans","fontWeight":"bold","color":"#ed1c24"},
 "encoding":{"x":{"field":"x","type":"quantitative"},"y":{"field":"y","type":"quantitative"},"text":{"field":"t"},
 "size":{"field":"s","type":"quantitative","scale":null}}}
]
}
